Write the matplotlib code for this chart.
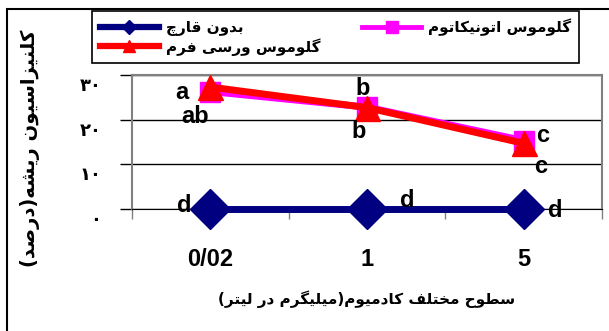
import matplotlib
matplotlib.use('Agg')
import matplotlib.pyplot as plt
from matplotlib.lines import Line2D
from matplotlib.patches import Rectangle
from matplotlib.transforms import ScaledTranslation

# data
levels = ['0/02', '1', '5']
no_fungus = [0, 0, 0]
etunicatum = [26.3, 22.8, 15.3]
versiforme = [27.3, 22.7, 14.7]
yticks = [0, 10, 20, 30]
ytick_labels = ['۰', '۱۰', '۲۰', '۳۰']

# significance letters: (text, category position, y value)
letters = [('a', -0.18, 24.6), ('ab', -0.095, 19.2),
           ('b', 0.97, 25.5), ('b', 0.95, 15.9),
           ('c', 2.12, 15.0), ('c', 2.11, 8.1),
           ('d', -0.165, -0.7), ('d', 1.26, 0.45), ('d', 2.2, -1.8)]

lbl_none = 'بدون قارچ'
lbl_etu = 'گلوموس اتونیکاتوم'
lbl_ver = 'گلوموس ورسی فرم'
xlab = 'سطوح مختلف کادمیوم(میلیگرم در لیتر)'
ylab = 'کلنیزاسیون ریشه(درصد)'

# matplotlib has no arabic shaping, so pick presentation forms by hand
# (isolated, final, initial, medial)
FORMS = {
    'ا': ('\uFE8D', '\uFE8E', None, None),
    'ب': ('\uFE8F', '\uFE90', '\uFE91', '\uFE92'),
    'ت': ('\uFE95', '\uFE96', '\uFE97', '\uFE98'),
    'ح': ('\uFEA1', '\uFEA2', '\uFEA3', '\uFEA4'),
    'خ': ('\uFEA5', '\uFEA6', '\uFEA7', '\uFEA8'),
    'د': ('\uFEA9', '\uFEAA', None, None),
    'ر': ('\uFEAD', '\uFEAE', None, None),
    'ز': ('\uFEAF', '\uFEB0', None, None),
    'س': ('\uFEB1', '\uFEB2', '\uFEB3', '\uFEB4'),
    'ش': ('\uFEB5', '\uFEB6', '\uFEB7', '\uFEB8'),
    'ص': ('\uFEB9', '\uFEBA', '\uFEBB', '\uFEBC'),
    'ط': ('\uFEC1', '\uFEC2', '\uFEC3', '\uFEC4'),
    'ف': ('\uFED1', '\uFED2', '\uFED3', '\uFED4'),
    'ق': ('\uFED5', '\uFED6', '\uFED7', '\uFED8'),
    'ل': ('\uFEDD', '\uFEDE', '\uFEDF', '\uFEE0'),
    'م': ('\uFEE1', '\uFEE2', '\uFEE3', '\uFEE4'),
    'ن': ('\uFEE5', '\uFEE6', '\uFEE7', '\uFEE8'),
    'ه': ('\uFEE9', '\uFEEA', '\uFEEB', '\uFEEC'),
    'و': ('\uFEED', '\uFEEE', None, None),
    'ی': ('\uFBFC', '\uFBFD', '\uFBFE', '\uFBFF'),
    'ک': ('\uFB8E', '\uFB8F', '\uFB90', '\uFB91'),
    'گ': ('\uFB92', '\uFB93', '\uFB94', '\uFB95'),
    'چ': ('\uFB7A', '\uFB7B', '\uFB7C', '\uFB7D'),
}


def fa(text):
    out = []
    for i, ch in enumerate(text):
        if ch not in FORMS:
            out.append(ch)
            continue
        prev = text[i - 1] if i > 0 else ''
        nxt = text[i + 1] if i < len(text) - 1 else ''
        jp = prev in FORMS and FORMS[prev][2] is not None
        jn = nxt in FORMS and FORMS[ch][2] is not None
        iso, fin, ini, med = FORMS[ch]
        if jp and jn:
            out.append(med)
        elif jp:
            out.append(fin)
        elif jn:
            out.append(ini)
        else:
            out.append(iso)
    s = ''.join(out)[::-1]
    return s.translate(str.maketrans('()', ')('))


plt.rcParams['font.family'] = ['DejaVu Sans']

fig = plt.figure(figsize=(6.09, 3.31), dpi=100)
ax = fig.add_axes([0.2167, 0.3686, 0.7718, 0.4048])

x = list(range(len(levels)))
ax.plot(x, no_fungus, color='#000080', lw=5, marker='D', ms=20, zorder=3, clip_on=False)
ax.plot(x, etunicatum, color='#FF00FF', lw=5, marker='s', ms=15, zorder=4, clip_on=False)
ax.plot(x, versiforme, color='#FF0000', lw=5, marker='^', ms=18, zorder=5, clip_on=False)

for t, xi, yi in letters:
    ax.text(xi, yi, t, ha='center', va='baseline', fontsize=17,
            fontweight='bold', family='Liberation Sans', zorder=6)

ax.set_xlim(-0.5, 2.5)
ax.set_ylim(0, 30)
ax.set_yticks(yticks)
ax.set_yticklabels(ytick_labels, fontsize=13, fontweight='bold')
ax.tick_params(axis='y', length=9, width=1, pad=13, color='black')
off = ScaledTranslation(0, -9 / 100, fig.dpi_scale_trans)
for lb in ax.get_yticklabels():
    lb.set_transform(lb.get_transform() + off)

ax.set_xticks(x)
ax.set_xticklabels(levels, fontsize=17, fontweight='bold', family='Liberation Sans')
ax.tick_params(axis='x', which='major', length=0, pad=28)
ax.set_xticks([-0.5, 0.5, 1.5, 2.5], minor=True)
ax.tick_params(axis='x', which='minor', length=7, width=1, color='#808080')

ax.yaxis.grid(True, color='black', lw=1)
ax.set_axisbelow(True)
for side in ['top', 'right', 'left']:
    ax.spines[side].set_color('#808080')
    ax.spines[side].set_linewidth(1.5)
ax.spines['bottom'].set_color('black')

ax.set_xlabel(fa(xlab), fontsize=11, fontweight='bold', labelpad=14)
fig.text(30 / 609, 1 - 148 / 331, fa(ylab), rotation=90, ha='center', va='center',
         fontsize=14, fontweight='bold')

handles = [Line2D([], [], color='#000080', lw=4.5, marker='D', ms=7),
           Line2D([], [], color='#FF0000', lw=4.5, marker='^', ms=9),
           Line2D([], [], color='#FF00FF', lw=3.5, marker='s', ms=8)]
labels = [fa(lbl_none), fa(lbl_ver), fa(lbl_etu)]
leg = fig.legend(handles, labels, ncol=2, loc='upper left',
                 bbox_to_anchor=(92 / 609, 1 - 11 / 331), borderaxespad=0,
                 prop={'size': 11, 'weight': 'bold'},
                 handlelength=3.9, handletextpad=0.45, columnspacing=2.7,
                 labelspacing=0.12, borderpad=0.5, fancybox=False,
                 edgecolor='black', framealpha=1)
leg.get_frame().set_linewidth(1.2)

fig.add_artist(Rectangle((7 / 609, -0.1), 1.0, 1.1 - 9 / 331, transform=fig.transFigure,
                         fill=False, lw=1.5, edgecolor='black'))

fig.savefig('out.png', dpi=100)
